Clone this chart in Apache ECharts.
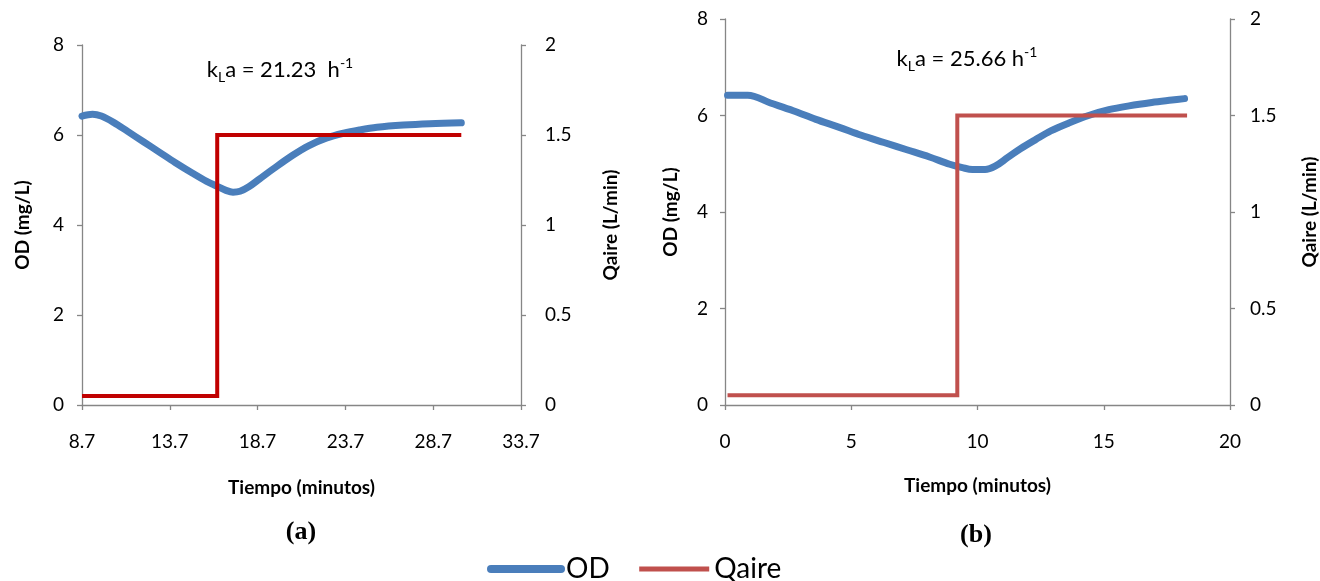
<!DOCTYPE html>
<html>
<head>
<meta charset="utf-8">
<script src="https://cdn.jsdelivr.net/npm/echarts@6/dist/echarts.min.js"></script>
<style>
html,body{margin:0;padding:0;background:#fff;}
#c{width:1320px;height:581px;}
</style>
</head>
<body>
<div id="c"></div>
<script>
// ---- Data (a) ----
const aTimeOD = [8.7, 9.3, 9.8, 10.5, 11.3, 12.2, 13.1, 14.0, 15.0, 15.8, 16.4, 16.9, 17.3, 17.7, 18.2, 18.8, 19.6, 20.7, 21.6, 22.6, 23.6, 24.5, 25.5, 27.0, 28.5, 30.3];
const aOD     = [6.42, 6.46, 6.42, 6.28, 6.08, 5.85, 5.62, 5.39, 5.15, 4.97, 4.86, 4.77, 4.73, 4.75, 4.85, 5.02, 5.25, 5.55, 5.76, 5.93, 6.04, 6.11, 6.17, 6.22, 6.25, 6.27];
const aTimeQ  = [8.7, 16.4, 16.4, 30.3];
const aQaire  = [0.05, 0.05, 1.5, 1.5];
const aXTicks = [8.7, 13.7, 18.7, 23.7, 28.7, 33.7];
const aKla = '21.23  h';

// ---- Data (b) ----
const bTimeOD = [0.1, 0.9, 1.8, 2.7, 3.6, 4.5, 5.4, 6.3, 7.2, 8.1, 8.9, 9.4, 9.8, 10.3, 10.7, 11.2, 11.7, 12.3, 12.9, 13.6, 14.4, 15.2, 16.0, 16.9, 17.7, 18.2];
const bOD     = [6.42, 6.42, 6.26, 6.10, 5.92, 5.76, 5.59, 5.44, 5.29, 5.14, 4.99, 4.92, 4.88, 4.88, 4.95, 5.13, 5.31, 5.50, 5.68, 5.84, 6.00, 6.12, 6.20, 6.27, 6.32, 6.35];
const bTimeQ  = [0.1, 9.2, 9.2, 18.3];
const bQaire  = [0.05, 0.05, 1.5, 1.5];
const bKla = '25.66 h';

const seriesNames = ['OD', 'Qaire'];
const xName = 'Tiempo (minutos)';
const yLeftName = 'OD (mg/L)';
const yRightName = 'Qaire (L/min)';

const zip = (xs, ys) => xs.map((x, i) => [x, ys[i]]);

const FONT = 'Lato, "Open Sans", sans-serif';
const AXC = '#868686';
const BLUE = '#4A7EBB';
const RED_A = '#C00000';
const RED_B = '#C0504D';

function axisBase() {
  return {
    axisLine: { show: true, onZero: false, lineStyle: { color: AXC, width: 1.3 } },
    axisTick: { show: true, inside: false, length: 5, lineStyle: { color: AXC, width: 1.3 } },
    splitLine: { show: false },
    axisLabel: { color: '#000', fontFamily: FONT, fontSize: 19 },
    nameTextStyle: { color: '#000', fontFamily: FONT, fontSize: 19, fontWeight: 'bold' },
    nameLocation: 'middle'
  };
}

function xAxis(grid, extra) {
  const a = axisBase();
  a.type = 'value';
  a.gridIndex = grid;
  a.name = xName;
  a.axisLabel.margin = 27;
  return Object.assign(a, extra);
}
function yAxis(grid, pos, extra) {
  const a = axisBase();
  a.type = 'value';
  a.gridIndex = grid;
  a.position = pos;
  a.nameRotate = 90;
  return Object.assign(a, extra);
}

const xa0 = xAxis(0, { min: 8.7, max: 33.7, nameGap: 73 });
xa0.axisLabel.customValues = aXTicks;
xa0.axisLabel.formatter = v => v.toFixed(1);
xa0.axisTick.customValues = aXTicks;
const xa1 = xAxis(1, { min: 0, max: 20, interval: 5, nameGap: 71 });

const ya0 = yAxis(0, 'left', { min: 0, max: 8, interval: 2, name: yLeftName, nameGap: 50 });
ya0.axisLabel.margin = 18;
const ya1 = yAxis(0, 'right', { min: 0, max: 2, interval: 0.5, name: yRightName, nameGap: 80 });
ya1.axisLabel.margin = 24;
const ya2 = yAxis(1, 'left', { min: 0, max: 8, interval: 2, name: yLeftName, nameGap: 45 });
ya2.axisLabel.margin = 17;
const ya3 = yAxis(1, 'right', { min: 0, max: 2, interval: 0.5, name: yRightName, nameGap: 70 });
ya3.axisLabel.margin = 20;

function klaText(val) {
  return '{n|k}{sub|L}{n|a = ' + val + '}{sup|-1}';
}
const richK = {
  n: { fontFamily: FONT, fontSize: 22, color: '#000', lineHeight: 28, verticalAlign: 'middle' },
  sub: { fontFamily: FONT, fontSize: 14, color: '#000', lineHeight: 14, verticalAlign: 'bottom' },
  sup: { fontFamily: FONT, fontSize: 14, color: '#000', lineHeight: 14, verticalAlign: 'top' }
};

const chart = echarts.init(document.getElementById('c'), null, { renderer: 'canvas' });
chart.setOption({
  animation: false,
  backgroundColor: '#fff',
  grid: [
    { left: 82, right: 799, top: 45, height: 360 },
    { left: 725, right: 90, top: 19, height: 386 }
  ],
  xAxis: [xa0, xa1],
  yAxis: [ya0, ya1, ya2, ya3],
  legend: {
    left: 487, top: 555, padding: 0,
    itemWidth: 70, itemHeight: 14, itemGap: 27,
    textStyle: { fontFamily: FONT, fontSize: 28, color: '#000' },
    data: [
      { name: seriesNames[0], lineStyle: { color: BLUE, width: 8, cap: 'round' }, itemStyle: { opacity: 0 } },
      { name: seriesNames[1], lineStyle: { color: RED_B, width: 5 }, itemStyle: { opacity: 0 } }
    ]
  },
  graphic: [
    { type: 'text', x: 280, y: 70, style: { text: klaText(aKla), rich: richK, align: 'center', verticalAlign: 'middle' } },
    { type: 'text', x: 967, y: 59, style: { text: klaText(bKla), rich: richK, align: 'center', verticalAlign: 'middle' } },
    { type: 'text', x: 301, y: 532, style: { text: '(a)', font: 'bold 26px "Liberation Serif", serif', fill: '#000', align: 'center', verticalAlign: 'middle' } },
    { type: 'text', x: 976, y: 535, style: { text: '(b)', font: 'bold 26px "Liberation Serif", serif', fill: '#000', align: 'center', verticalAlign: 'middle' } }
  ],
  series: [
    { name: seriesNames[0], type: 'line', xAxisIndex: 0, yAxisIndex: 0, data: zip(aTimeOD, aOD),
      smooth: 0.35, showSymbol: false, symbol: 'none', color: BLUE,
      lineStyle: { color: BLUE, width: 7, cap: 'round', join: 'round' }, z: 2 },
    { name: seriesNames[1], type: 'line', xAxisIndex: 0, yAxisIndex: 1, data: zip(aTimeQ, aQaire),
      showSymbol: false, symbol: 'none', color: RED_A,
      lineStyle: { color: RED_A, width: 4, join: 'miter' }, z: 3 },
    { name: seriesNames[0], type: 'line', xAxisIndex: 1, yAxisIndex: 2, data: zip(bTimeOD, bOD),
      smooth: 0.35, showSymbol: false, symbol: 'none', color: BLUE,
      lineStyle: { color: BLUE, width: 7, cap: 'round', join: 'round' }, z: 2 },
    { name: seriesNames[1], type: 'line', xAxisIndex: 1, yAxisIndex: 3, data: zip(bTimeQ, bQaire),
      showSymbol: false, symbol: 'none', color: RED_B,
      lineStyle: { color: RED_B, width: 4, join: 'miter' }, z: 3 }
  ]
});
</script>
</body>
</html>
